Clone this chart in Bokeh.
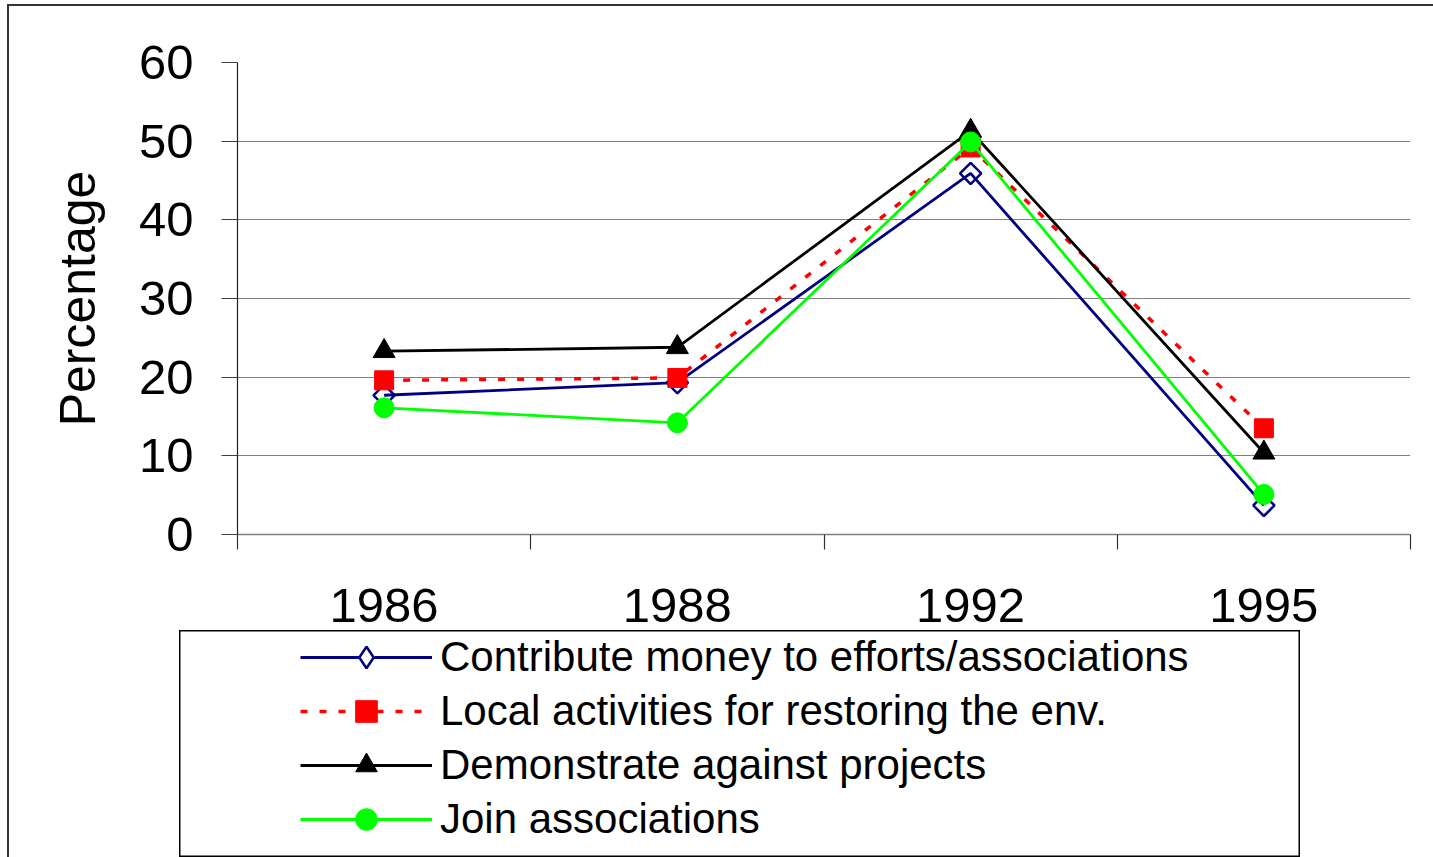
import math
from bokeh.plotting import figure
from bokeh.layouts import column, row
from bokeh.models import Range1d, FixedTicker, Legend, LegendItem, Spacer
from bokeh.embed import file_html
from bokeh.resources import INLINE

years = ["1986", "1988", "1992", "1995"]
contribute = [17.7, 19.3, 45.9, 3.7]
local = [19.6, 19.9, 49.2, 13.5]
demonstrate = [23.3, 23.8, 51.3, 10.4]
join = [16.1, 14.2, 49.9, 5.1]
series_labels = [
    "Contribute money to efforts/associations",
    "Local activities for restoring the env.",
    "Demonstrate against projects",
    "Join associations",
]
y_ticks = [0, 10, 20, 30, 40, 50, 60]
y_label = "Percentage"

FONT = "Liberation Sans"
xpos = [i + 0.5 for i in range(len(years))]

# series styles
styles = [
    dict(line=dict(line_color="#000080", line_width=2.8),
         marker=dict(marker="square", size=15, angle=math.pi / 4, fill_color=None,
                     line_color="#000080", line_width=2.5)),
    dict(line=dict(line_color="#FF0000", line_width=3.5, line_dash="7 12"),
         marker=dict(marker="square", size=19, fill_color="#FF0000", line_color="#FF0000")),
    dict(line=dict(line_color="black", line_width=2.8),
         marker=dict(marker="triangle", size=22, fill_color="black", line_color="black")),
    dict(line=dict(line_color="#00FF00", line_width=2.8),
         marker=dict(marker="circle", size=20, fill_color="#00FF00", line_color="#00FF00")),
]
# legend keys (the legend draws markers unrotated, so use a diamond there)
legend_markers = [
    dict(marker="diamond", size=20, fill_color="white", line_color="#000080", line_width=2.5),
    styles[1]["marker"],
    styles[2]["marker"],
    styles[3]["marker"],
]
series_values = [contribute, local, demonstrate, join]

p = figure(width=1424, height=624, output_backend="svg", toolbar_location=None,
           x_range=Range1d(0, len(years)), y_range=Range1d(0, 60),
           min_border_left=228, min_border_right=23, min_border_top=56,
           min_border_bottom=96)
p.outline_line_color = None
p.background_fill_color = "white"
p.border_fill_color = "white"

# axes
p.xaxis.ticker = FixedTicker(ticks=xpos, minor_ticks=list(range(len(years) + 1)))
p.xaxis.major_label_overrides = {x: y for x, y in zip(xpos, years)}
p.xaxis.major_tick_out = 0
p.xaxis.major_tick_in = 0
p.xaxis.minor_tick_out = 15
p.xaxis.minor_tick_in = 0
p.xaxis.minor_tick_line_color = "#303030"
p.xaxis.minor_tick_line_width = 1.2
p.xaxis.axis_line_color = "#808080"
p.xaxis.axis_line_width = 1.5
p.xaxis.major_label_text_font = FONT
p.xaxis.major_label_text_font_size = "49px"
p.xaxis.major_label_text_color = "black"
p.xaxis.major_label_standoff = 39

p.yaxis.ticker = FixedTicker(ticks=y_ticks, minor_ticks=[])
p.yaxis.major_tick_out = 16
p.yaxis.major_tick_in = 0
p.yaxis.major_tick_line_color = "#404040"
p.yaxis.axis_line_color = "#202020"
p.yaxis.axis_line_width = 1.2
p.yaxis.major_label_text_font = FONT
p.yaxis.major_label_text_font_size = "49px"
p.yaxis.major_label_text_color = "black"
p.yaxis.major_label_standoff = 28
p.yaxis.axis_label = y_label
p.yaxis.axis_label_text_font = FONT
p.yaxis.axis_label_text_font_size = "50px"
p.yaxis.axis_label_text_font_style = "normal"
p.yaxis.axis_label_text_color = "black"
p.yaxis.axis_label_standoff = 30

p.xgrid.visible = False
p.ygrid.ticker = FixedTicker(ticks=[t for t in y_ticks if 0 < t < 60])
p.ygrid.grid_line_color = "#808080"
p.ygrid.grid_line_width = 1

for vals, st in zip(series_values, styles):
    p.line(xpos, vals, **st["line"])
    p.scatter(xpos, vals, **st["marker"])

# legend panel: a small figure whose frame is the legend box; its series
# are drawn outside its visible range, so only the legend shows
lg = figure(width=1121, height=227, output_backend="svg", toolbar_location=None,
            x_range=Range1d(0, len(years)), y_range=Range1d(-200, -100),
            x_axis_type=None, y_axis_type=None, min_border=0)
lg.xgrid.visible = False
lg.ygrid.visible = False
lg.outline_line_color = "black"
lg.outline_line_width = 2
lg.background_fill_color = "white"
lg.border_fill_color = "white"

items = []
for lab, vals, st, lm in zip(series_labels, series_values, styles, legend_markers):
    lr = lg.line(xpos, vals, **st["line"])
    mr = lg.scatter(xpos, vals, **lm)
    items.append(LegendItem(label=lab, renderers=[lr, mr]))

legend = Legend(items=items, location=(121, 11), padding=0, spacing=0,
                glyph_width=132, glyph_height=54, label_height=54,
                label_standoff=8, label_text_font=FONT,
                label_text_font_size="42px", label_text_color="black",
                border_line_alpha=0, background_fill_alpha=0, margin=0)
lg.add_layout(legend)

layout = column(p, row(Spacer(width=170, height=227), lg, spacing=0), spacing=0)
layout.styles = {"margin-left": "7px", "margin-top": "4px",
                 "border-left": "2px solid #333333", "border-top": "2px solid #333333"}

open("out.html", "w").write(file_html(layout, INLINE))
